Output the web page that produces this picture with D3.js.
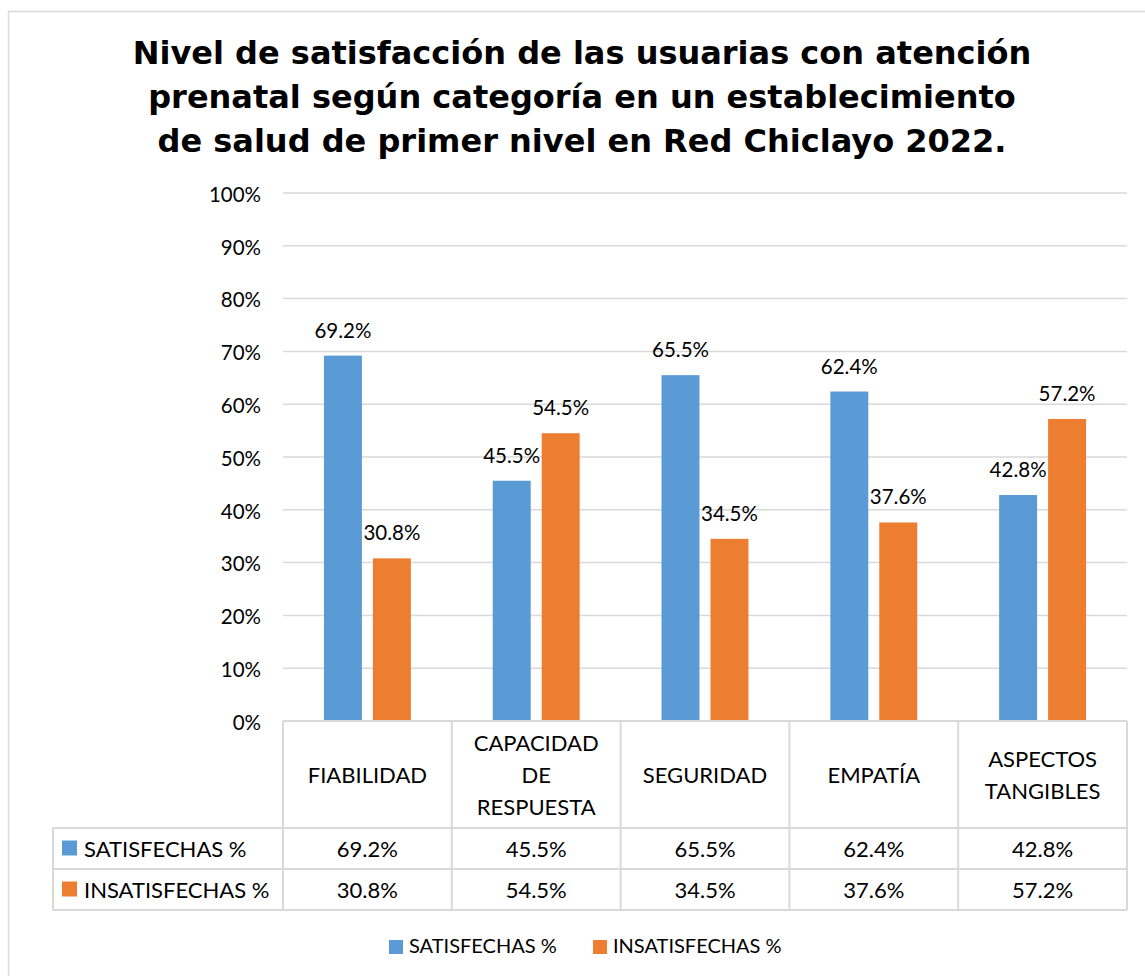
<!DOCTYPE html>
<html>
<head>
<meta charset="utf-8">
<script src="https://cdn.jsdelivr.net/npm/d3@7"></script>
<style>
  body { margin: 0; background: #fff; }
  text { font-family: Lato, "Open Sans", sans-serif; fill: #000; }
</style>
</head>
<body>
<div id="root"></div>
<script>
var categories = ['FIABILIDAD', 'CAPACIDAD DE RESPUESTA', 'SEGURIDAD', 'EMPATÍA', 'ASPECTOS TANGIBLES'];
var categoryLines = [['FIABILIDAD'], ['CAPACIDAD', 'DE', 'RESPUESTA'], ['SEGURIDAD'], ['EMPATÍA'], ['ASPECTOS', 'TANGIBLES']];
var seriesNames = ['SATISFECHAS %', 'INSATISFECHAS %'];
var satisfechas = [0.692, 0.455, 0.655, 0.624, 0.428];
var insatisfechas = [0.308, 0.545, 0.345, 0.376, 0.572];
var yTicks = [0, 0.1, 0.2, 0.3, 0.4, 0.5, 0.6, 0.7, 0.8, 0.9, 1];
var titleLines = [
  'Nivel de satisfacción de las usuarias con atención',
  'prenatal según categoría en un establecimiento',
  'de salud de primer nivel en Red Chiclayo 2022.'
];

var colors = ['#5B9BD5', '#ED7D31'];
var gridColor = '#d9d9d9';
var fmt = d3.format('.1%');

var data = categories.map((c, i) => ({
  name: c,
  values: [satisfechas[i], insatisfechas[i]]
}));

var svg = d3.select('#root')
  .append('svg')
    .attr('width', 1145)
    .attr('height', 976);

// chart border
svg.append('rect')
  .attr('x', 8.5)
  .attr('y', 11.5)
  .attr('width', 1160)
  .attr('height', 1000)
  .attr('fill', 'none')
  .attr('stroke', gridColor)
  .attr('stroke-width', 1.5);

// title
svg.append('g')
  .selectAll('text')
  .data(titleLines)
  .enter()
  .append('text')
    .attr('x', 582)
    .attr('y', (d, i) => 64 + i * 44)
    .attr('text-anchor', 'middle')
    .style('font-family', '"DejaVu Sans", sans-serif')
    .style('font-weight', 'bold')
    .style('font-size', '32px')
    .text(d => d);

var plotLeft = 283, plotRight = 1127, plotTop = 193, plotBottom = 721;

var x0 = d3.scaleBand()
  .domain(categories)
  .range([plotLeft, plotRight])
  .padding(0);

// bars take ~51% of the category width, gap between them
var groupW = x0.bandwidth() * 0.515;
var x1 = d3.scaleBand()
  .domain(seriesNames)
  .range([(x0.bandwidth() - groupW) / 2, (x0.bandwidth() + groupW) / 2])
  .paddingInner(0.225)
  .paddingOuter(0);

var y = d3.scaleLinear()
  .domain([0, 1])
  .range([plotBottom, plotTop]);

// gridlines
svg.append('g')
  .selectAll('line')
  .data(yTicks.slice(1))
  .enter()
  .append('line')
    .attr('x1', plotLeft)
    .attr('x2', plotRight)
    .attr('y1', d => y(d))
    .attr('y2', d => y(d))
    .attr('stroke', gridColor)
    .attr('stroke-width', 1.5);

// y axis labels
var yAxis = svg.append('g')
  .attr('transform', 'translate(261,0)')
  .call(d3.axisLeft(y).tickValues(yTicks).tickFormat(d3.format('.0%')).tickSize(0).tickPadding(0));
yAxis.select('.domain').remove();
yAxis.selectAll('text')
  .style('font-family', 'Lato, sans-serif')
  .style('font-size', '20.5px')
  .attr('dy', '0.4em')
  .attr('fill', '#000');

// bars
var groups = svg.append('g')
  .selectAll('g')
  .data(data)
  .enter()
  .append('g')
    .attr('transform', d => 'translate(' + x0(d.name) + ',0)');

groups.selectAll('rect')
  .data(d => d.values.map((v, i) => ({ key: seriesNames[i], value: v, i: i })))
  .enter()
  .append('rect')
    .attr('x', d => x1(d.key))
    .attr('y', d => y(d.value))
    .attr('width', x1.bandwidth())
    .attr('height', d => plotBottom - y(d.value))
    .attr('fill', d => colors[d.i]);

groups.selectAll('text.lbl')
  .data(d => d.values.map((v, i) => ({ key: seriesNames[i], value: v, i: i })))
  .enter()
  .append('text')
    .attr('class', 'lbl')
    .attr('x', d => x1(d.key) + x1.bandwidth() / 2)
    .attr('y', d => y(d.value) - 18)
    .attr('text-anchor', 'middle')
    .style('font-size', '20.5px')
    .text(d => fmt(d.value));

// data table
var tableLeft = 53;
var rowTops = [plotBottom, 828, 869, 910];
var table = svg.append('g');

// axis line / table top
table.append('line')
  .attr('x1', plotLeft).attr('x2', plotRight)
  .attr('y1', plotBottom).attr('y2', plotBottom)
  .attr('stroke', gridColor).attr('stroke-width', 2);

table.selectAll('line.h')
  .data(rowTops.slice(1))
  .enter()
  .append('line')
    .attr('x1', tableLeft).attr('x2', plotRight)
    .attr('y1', d => d).attr('y2', d => d)
    .attr('stroke', gridColor).attr('stroke-width', 2);

var boundaries = categories.map(c => x0(c)).concat([plotRight]);
table.selectAll('line.v')
  .data(boundaries)
  .enter()
  .append('line')
    .attr('x1', d => d).attr('x2', d => d)
    .attr('y1', plotBottom).attr('y2', rowTops[3])
    .attr('stroke', gridColor).attr('stroke-width', 2);

table.append('line')
  .attr('x1', tableLeft).attr('x2', tableLeft)
  .attr('y1', rowTops[1]).attr('y2', rowTops[3])
  .attr('stroke', gridColor).attr('stroke-width', 2);

// category header
categoryLines.forEach((lines, i) => {
  var cx = x0(categories[i]) + x0.bandwidth() / 2;
  var mid = (rowTops[0] + rowTops[1]) / 2;
  var lh = 32;
  table.append('text')
    .attr('x', cx)
    .attr('text-anchor', 'middle')
    .style('font-size', '22px')
    .selectAll('tspan')
    .data(lines)
    .enter()
    .append('tspan')
      .attr('x', cx)
      .attr('y', (d, j) => mid + (j - (lines.length - 1) / 2) * lh + 8)
      .text(d => d);
});

// value rows
seriesNames.forEach((s, si) => {
  var top = rowTops[si + 1], bottom = rowTops[si + 2];
  var mid = (top + bottom) / 2;
  table.append('rect')
    .attr('x', 62).attr('y', mid - 8)
    .attr('width', 15).attr('height', 15)
    .attr('fill', colors[si]);
  table.append('text')
    .attr('x', 84).attr('y', mid + 8)
    .style('font-size', '22px')
    .text(s);
  var vals = si === 0 ? satisfechas : insatisfechas;
  table.selectAll(null)
    .data(vals)
    .enter()
    .append('text')
      .attr('x', (d, i) => x0(categories[i]) + x0.bandwidth() / 2)
      .attr('y', mid + 8)
      .attr('text-anchor', 'middle')
      .style('font-size', '22px')
      .text(d => fmt(d));
});

// bottom legend
var legend = svg.append('g').attr('transform', 'translate(389,940)');
var legX = [0, 204];
seriesNames.forEach((s, i) => {
  legend.append('rect')
    .attr('x', legX[i]).attr('y', 0)
    .attr('width', 14).attr('height', 14)
    .attr('fill', colors[i]);
  legend.append('text')
    .attr('x', legX[i] + 20).attr('y', 13)
    .style('font-size', '20px')
    .text(s);
});
</script>
</body>
</html>
